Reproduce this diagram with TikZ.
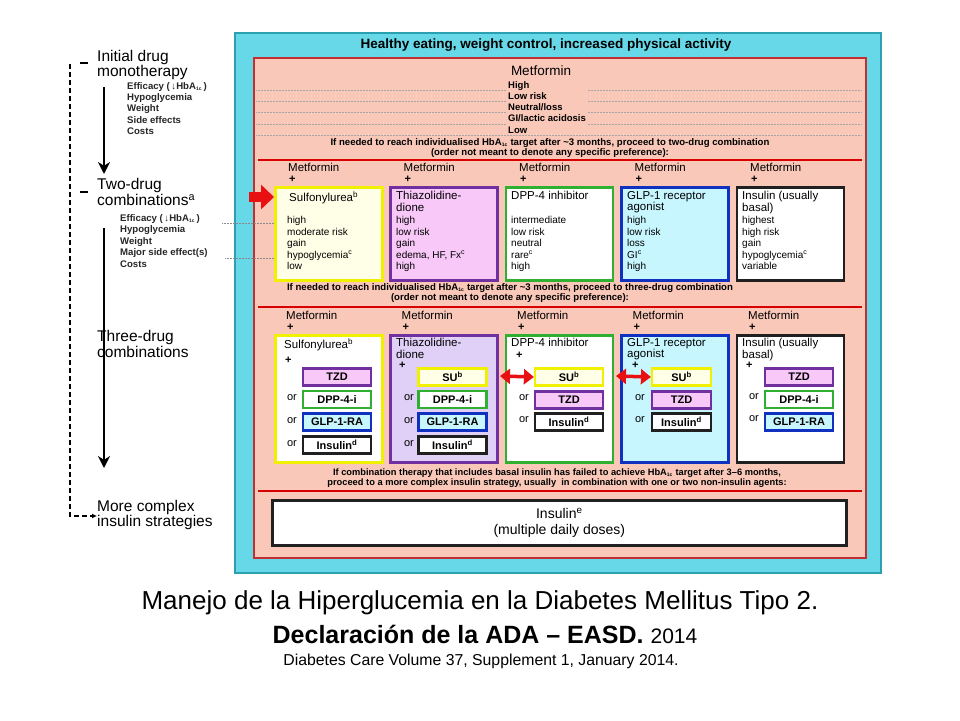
\documentclass[tikz,border=0pt]{standalone}
\usepackage{fontspec}
\setmainfont{Liberation Sans}
\usetikzlibrary{arrows.meta,shadows}
\definecolor{cyanbg}{HTML}{66D8E8}
\definecolor{cyanbd}{HTML}{2AA0B0}
\definecolor{salmon}{HTML}{F9C8B8}
\definecolor{salbd}{HTML}{C03030}
\definecolor{yelbd}{HTML}{F0F000}
\definecolor{yelfill}{HTML}{FFFFE8}
\definecolor{purbd}{HTML}{7030A0}
\definecolor{pinkfill}{HTML}{F8C8F8}
\definecolor{lavfill}{HTML}{E0D0F8}
\definecolor{grnbd}{HTML}{30B030}
\definecolor{blubd}{HTML}{1030C0}
\definecolor{cyfill}{HTML}{C8F6FF}
\definecolor{blkbd}{HTML}{202020}
\definecolor{redar}{HTML}{E81010}
\newcommand\fs[2]{\fontsize{#1}{#2}\selectfont}
\newcommand\hba{HbA\textsubscript{\fs{5}{5}1c}}
\tikzset{
  dbox/.style={draw=#1, line width=2.6pt, anchor=north west, inner sep=0pt, minimum width=107pt, drop shadow={shadow xshift=1.5pt,shadow yshift=-1.5pt,fill=black!60}},
  sbox/.style={draw=#1, line width=2.2pt, minimum width=68pt, minimum height=17pt, inner sep=0pt, font=\fs{11}{11}\bfseries, drop shadow={shadow xshift=1pt,shadow yshift=-1pt,fill=black!60}},
  txt/.style={anchor=north west, inner sep=0pt, align=left, font=\fs{10}{11.6}},
  ttl/.style={anchor=north west, inner sep=0pt, align=left, font=\fs{11.5}{11.5}},
  hdr/.style={anchor=west, inner sep=0pt, font=\fs{11.5}{12}},
  pls/.style={anchor=west, inner sep=0pt, font=\fs{11}{11}\bfseries},
  lbl/.style={anchor=west, inner sep=0pt, font=\fs{15.5}{13.5}, align=left},
  orl/.style={font=\fs{11}{11}},
  dots/.style={draw=black!35, densely dotted, line width=0.5pt},
  redline/.style={draw=red!85!black, line width=2pt},
  bigarrow/.style={-{Stealth[length=12pt,width=12pt]}, line width=2pt},
  dbl/.style={{Triangle[length=10pt,width=15pt]}-{Triangle[length=10pt,width=15pt]}, draw=redar, line width=3.5pt},
  steptxt/.style={font=\fs{9.6}{10}\bfseries, align=center}
}
\begin{document}
\begin{tikzpicture}[x=1pt,y=-1pt]
\useasboundingbox (0,0) rectangle (960,720);
\fill[white] (0,0) rectangle (960,720);
% outer cyan
\node[draw=cyanbd, fill=cyanbg, line width=2pt, anchor=north west, minimum width=646pt, minimum height=540pt, inner sep=0pt] (outer) at (234,32) {};
\node[font=\fs{13.5}{13.5}\bfseries] (healthy) at (546,45) {Healthy eating, weight control, increased physical activity};
\node[draw=salbd, fill=salmon, line width=2pt, anchor=north west, minimum width=612pt, minimum height=500pt, inner sep=0pt] (panel) at (253,57) {};
% monotherapy lines
\foreach \yy in {87,98,109,121,132}{\draw[dots] (256,\yy+3) -- (862,\yy+3);}
\node[font=\fs{13.5}{13.5}] (met0) at (541,71) {Metformin};
\node[txt, font=\fs{9.5}{11.3}\bfseries, fill=salmon, inner xsep=1pt] (mono) at (507,81) {High\\Low risk\\Neutral/loss\\GI/lactic acidosis\\Low};
\node[steptxt] (step1) at (550,148) {If needed to reach individualised \hba\ target after \textasciitilde3 months, proceed to two-drug combination\\(order not meant to denote any specific preference):};
\draw[redline] (258,160) -- (862,160);
% two drug
\foreach \x/\n in {273/a,388.5/b,504/c,619.5/d,735/e}{
  \node[hdr] (m2\n) at (\x+15,167) {Metformin};
  \node[pls] (p2\n) at (\x+16,179) {+};
}
\node[dbox=yelbd, fill=yelfill, minimum height=93pt] (b2a) at (274,186) {};
\node[dbox=purbd, fill=pinkfill, minimum height=93pt] (b2b) at (389,186) {};
\node[dbox=grnbd, fill=white, minimum height=93pt] (b2c) at (504.5,186) {};
\node[dbox=blubd, fill=cyfill, minimum height=93pt] (b2d) at (620,186) {};
\node[dbox=blkbd, fill=white, minimum height=93pt] (b2e) at (735.5,186) {};
\node[ttl] (t2a) at (289,191) {Sulfonylurea\textsuperscript{b}};
\node[ttl] (t2b) at (396,191) {Thiazolidine-\\dione};
\node[ttl] (t2c) at (511,191) {DPP-4 inhibitor};
\node[ttl] (t2d) at (627,191) {GLP-1 receptor\\agonist};
\node[ttl] (t2e) at (742,191) {Insulin (usually\\basal)};
\node[txt] (r2a) at (287,216) {high\\moderate risk\\gain\\hypoglycemia\textsuperscript{c}\\low};
\node[txt] (r2b) at (396,216) {high\\low risk\\gain\\edema, HF, Fx\textsuperscript{c}\\high};
\node[txt] (r2c) at (511,216) {intermediate\\low risk\\neutral\\rare\textsuperscript{c}\\high};
\node[txt] (r2d) at (627,216) {high\\low risk\\loss\\GI\textsuperscript{c}\\high};
\node[txt] (r2e) at (742,216) {highest\\high risk\\gain\\hypoglycemia\textsuperscript{c}\\variable};
% red big arrow
\coordinate (ra0) at (249,197);
\draw[draw=redar, line width=10pt, -{Triangle[length=13pt,width=24pt]}] (ra0) -- (b2a.west |- ra0);
\node[steptxt] (step2) at (510,293) {If needed to reach individualised \hba\ target after \textasciitilde3 months, proceed to three-drug combination\\(order not meant to denote any specific preference):};
\draw[redline] (258,307) -- (862,307);
% three drug
\foreach \x/\n in {273/a,388.5/b,504/c,619.5/d,735/e}{
  \node[hdr] (m3\n) at (\x+13,315) {Metformin};
  \node[pls] (p3\n) at (\x+14,327) {+};
}
\node[dbox=yelbd, fill=white, minimum height=127pt] (b3a) at (274,334) {};
\node[dbox=purbd, fill=lavfill, minimum height=127pt] (b3b) at (389,334) {};
\node[dbox=grnbd, fill=white, minimum height=127pt] (b3c) at (504.5,334) {};
\node[dbox=blubd, fill=cyfill, minimum height=127pt] (b3d) at (620,334) {};
\node[dbox=blkbd, fill=white, minimum height=127pt] (b3e) at (735.5,334) {};
\node[ttl] (t3a) at (284,338) {Sulfonylurea\textsuperscript{b}};
\node[pls] (q3a) at (285,360) {+};
\node[ttl] (t3b) at (396,338) {Thiazolidine-\\dione};
\node[pls] (q3b) at (399,365) {+};
\node[ttl] (t3c) at (511,338) {DPP-4 inhibitor};
\node[pls] (q3c) at (516,355) {+};
\node[ttl] (t3d) at (627,338) {GLP-1 receptor\\agonist};
\node[pls] (q3d) at (632,365) {+};
\node[ttl] (t3e) at (742,338) {Insulin (usually\\basal)};
\node[pls] (q3e) at (746,365) {+};
% sub boxes col a
\node[sbox=purbd, fill=pinkfill] (a1) at (337,377) {TZD};
\node[sbox=grnbd, fill=white] (a2) at (337,399.5) {DPP-4-i};
\node[sbox=blubd, fill=cyfill] (a3) at (337,422) {GLP-1-RA};
\node[sbox=blkbd, fill=white] (a4) at (337,445) {Insulin\textsuperscript{d}};
% col b
\node[sbox=yelbd, fill=yelfill] (b1) at (452.5,377) {SU\textsuperscript{b}};
\node[sbox=grnbd, fill=white] (b2) at (452.5,399.5) {DPP-4-i};
\node[sbox=blubd, fill=cyfill] (b3) at (452.5,422) {GLP-1-RA};
\node[sbox=blkbd, fill=white] (b4) at (452.5,445) {Insulin\textsuperscript{d}};
% col c
\node[sbox=yelbd, fill=yelfill] (c1) at (569,377) {SU\textsuperscript{b}};
\node[sbox=purbd, fill=pinkfill] (c2) at (569,400) {TZD};
\node[sbox=blkbd, fill=white] (c3) at (569,422) {Insulin\textsuperscript{d}};
% col d
\node[sbox=yelbd, fill=yelfill, minimum width=59pt] (d1) at (681.5,377) {SU\textsuperscript{b}};
\node[sbox=purbd, fill=pinkfill, minimum width=59pt] (d2) at (681.5,400) {TZD};
\node[sbox=blkbd, fill=white, minimum width=59pt] (d3) at (681.5,422) {Insulin\textsuperscript{d}};
% col e
\node[sbox=purbd, fill=pinkfill] (e1) at (799,377) {TZD};
\node[sbox=grnbd, fill=white] (e2) at (799,399.5) {DPP-4-i};
\node[sbox=blubd, fill=cyfill] (e3) at (799,422) {GLP-1-RA};
% or labels
\foreach \n/\xx/\yy in {oa2/292/398,oa3/292/421,oa4/292/444,ob2/409/398,ob3/409/421,ob4/409/444,oc2/524/398,oc3/524/420,od2/640/398,od3/640/420,oe2/754/397,oe3/754/419}{
  \node[orl] (\n) at (\xx,\yy) {or};
}
% red double arrows
\coordinate (dl1) at (500,376);
\coordinate (dl2) at (616,376);
\draw[dbl] (dl1) -- (c1.west);
\draw[dbl] (dl2) -- (d1.west);
\node[steptxt, font=\fs{9.3}{10.5}\bfseries] (step3) at (557,478) {If combination therapy that includes basal insulin has failed to achieve \hba\ target after 3--6 months,\\proceed to a more complex insulin strategy, usually \ in combination with one or two non-insulin agents:};
\draw[redline] (258,491) -- (862,491);
\node[dbox=blkbd, fill=white, minimum width=574pt, minimum height=45pt] (b4) at (271,499) {};
\node[font=\fs{14}{15.5}, align=center] (ins) at (b4.center) {Insulin\textsuperscript{e}\\(multiple daily doses)};
% left column
\node[lbl] (l1) at (97,65) {Initial drug\\monotherapy};
\node[txt, font=\fs{9.6}{11.3}\bfseries, text=black!85] (l1list) at (127,82) {Efficacy (\,↓\hba\,)\\Hypoglycemia\\Weight\\Side effects\\Costs};
\node[lbl] (l2) at (97,192) {Two-drug\\combinations\textsuperscript{a}};
\node[txt, font=\fs{9.6}{11.5}\bfseries, text=black!85] (l2list) at (120,214) {Efficacy (\,↓\hba\,)\\Hypoglycemia\\Weight\\Major side effect(s)\\Costs};
\node[lbl] (l3) at (97,344) {Three-drug\\combinations};
\node[lbl] (l4) at (97,515) {More complex\\insulin strategies};
\draw[dots, draw=black!45] (222,223) -- (b2a.west |- 0,223);
\draw[dots, draw=black!45] (225,258) -- (b2a.west |- 0,258);
\coordinate (ar1s) at (104,87);
\coordinate (ar1e) at (104,174);
\coordinate (ar2s) at (104,228);
\coordinate (ar2e) at (104,468);
\draw[bigarrow] (ar1s) -- (ar1e);
\draw[bigarrow] (ar2s) -- (ar2e);
\coordinate (h1a) at (80,63); \coordinate (h1b) at (88,63);
\coordinate (h2a) at (80,192); \coordinate (h2b) at (88,192);
\draw[line width=2pt] (h1a) -- (h1b);
\draw[line width=2pt] (h2a) -- (h2b);
\coordinate (dtop) at (70,64);
\coordinate (dbot) at (70,516);
\draw[line width=1.8pt, dash pattern=on 5pt off 3pt, -{Latex[length=5pt,width=5pt]}] (dtop) -- (dbot) -- (l4.west |- dbot);
% caption
\node[font=\fs{26}{26}] (cap1) at (480,603) {Manejo de la Hiperglucemia en la Diabetes Mellitus Tipo 2.};
\node[font=\fs{25}{25}] (cap2) at (485,634) {\textbf{Declaración de la ADA – EASD.} \fs{21}{21}2014};
\node[font=\fs{15.8}{16}] (cap3) at (481,661) {Diabetes Care Volume 37, Supplement 1, January 2014.};
\end{tikzpicture}
\end{document}
